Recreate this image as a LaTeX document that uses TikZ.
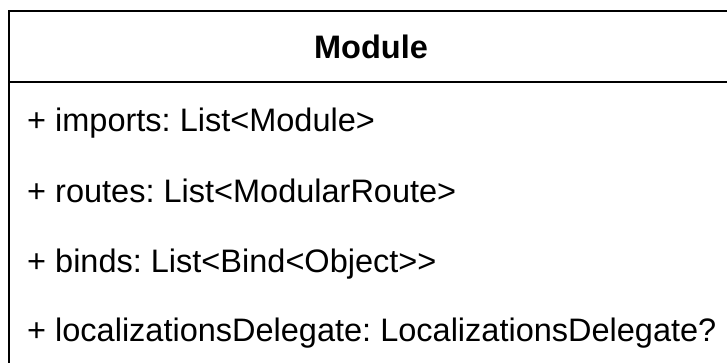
\documentclass[tikz,border=0pt]{standalone}
\usepackage{fontspec}
\setmainfont{Liberation Sans}[Ligatures=TeXOff]
\frenchspacing

\tikzset{
    attr/.style={anchor=base west, inner sep=0pt, font=\fontsize{32.5}{39}\selectfont},
    title/.style={anchor=base, inner sep=0pt, font=\fontsize{32.5}{39}\selectfont\bfseries}
}

\begin{document}
\begin{tikzpicture}[x=1pt,y=-1pt]
        \useasboundingbox (0,0) rectangle (727,362);

        % Рамка класса
        \coordinate (TL) at (8.5,10.7);
        \coordinate (TR) at (740,10.7);
        \coordinate (BL) at (8.5,380);
        \coordinate (SL) at (8.5,82);
        \coordinate (SR) at (740,82);
        \draw[line width=2pt] (TR) -- (TL) -- (BL);
        \draw[line width=2pt] (SL) -- (SR);

        % Имя класса
        \node[title] (name) at (371,58) {Module};

        % Атрибуты
        \node[attr] (imports) at (27,131) {+ imports: List<Module>};
        \node[attr] (routes)  at (27,202) {+ routes: List<ModularRoute>};
        \node[attr] (binds)   at (27,272) {+ binds: List<Bind<Object>>};
        \node[attr] (deleg)   at (27,341) {+ localizationsDelegate: LocalizationsDelegate?};
    \end{tikzpicture}
\end{document}
